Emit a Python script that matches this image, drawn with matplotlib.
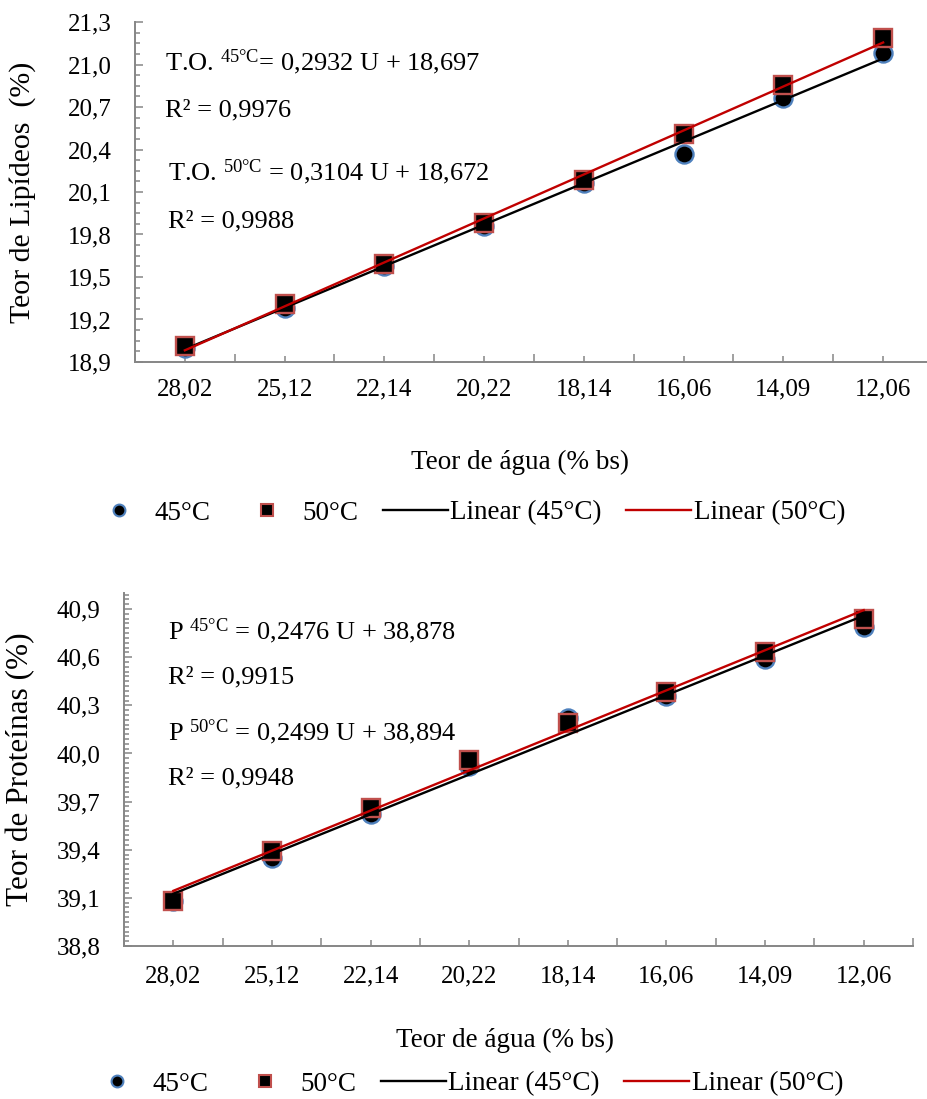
import numpy as np
import matplotlib.pyplot as plt
from matplotlib.lines import Line2D
from matplotlib.ticker import FixedLocator

plt.rcParams['font.family'] = ['Liberation Serif', 'DejaVu Serif']
plt.rcParams['mathtext.fontset'] = 'custom'
plt.rcParams['mathtext.rm'] = 'Liberation Serif'
plt.rcParams['mathtext.it'] = 'Liberation Serif:italic'

# *
# data
# *
umidade = ['28,02', '25,12', '22,14', '20,22', '18,14', '16,06', '14,09', '12,06']

lip_45 = [19.00, 19.28, 19.58, 19.86, 20.16, 20.37, 20.76, 21.08]
lip_50 = [19.01, 19.31, 19.59, 19.88, 20.185, 20.51, 20.855, 21.19]
lip_coef_45 = (0.2932, 18.697)
lip_coef_50 = (0.3104, 18.672)
lip_yticks = [18.9, 19.2, 19.5, 19.8, 20.1, 20.4, 20.7, 21.0, 21.3]
lip_ylabels = ['18,9', '19,2', '19,5', '19,8', '20,1', '20,4', '20,7', '21,0', '21,3']

prot_45 = [39.08, 39.35, 39.62, 39.92, 40.22, 40.36, 40.59, 40.79]
prot_50 = [39.08, 39.39, 39.66, 39.96, 40.19, 40.38, 40.63, 40.84]
prot_coef_45 = (0.2476, 38.878)
prot_coef_50 = (0.2499, 38.894)
prot_yticks = [38.8, 39.1, 39.4, 39.7, 40.0, 40.3, 40.6, 40.9]
prot_ylabels = ['38,8', '39,1', '39,4', '39,7', '40,0', '40,3', '40,6', '40,9']

lip_text = [r'T.O. $^{\mathrm{45°C}}$= 0,2932 U + 18,697', 'R² = 0,9976',
            r'T.O. $^{\mathrm{50°C}}$ = 0,3104 U + 18,672', 'R² = 0,9988']
prot_text = [r'P $^{\mathrm{45°C}}$ = 0,2476 U + 38,878', 'R² = 0,9915',
             r'P $^{\mathrm{50°C}}$ = 0,2499 U + 38,894', 'R² = 0,9948']

W, H = 927, 1099
BLUE = '#4F81BD'
PINK = '#C0504D'
RED = '#C00000'
GRAY = '#868686'
FS_TICK = 18
FS_EQ = 19
FS_LAB = 19.5

fig = plt.figure(figsize=(W / 100, H / 100), dpi=100)


def px(x0, y0, x1, y1):
    # pixel box -> figure fraction [left, bottom, width, height]
    return [x0 / W, 1 - y1 / H, (x1 - x0) / W, (y1 - y0) / H]


def panel(rect, y45, y50, c45, c50, ylim, yticks, ylabels, yminor, xright,
          ylabel, ylabsize, ylabx, xlabpad):
    ax = fig.add_axes(rect)
    x = np.arange(len(umidade))
    ax.plot(x, y45, 'o', ms=13, mfc='black', mec=BLUE, mew=1.7, zorder=3)
    ax.plot(x, y50, 's', ms=13, mfc='black', mec=PINK, mew=1.7, zorder=4)
    u = x + 1
    ax.plot(x, c45[0] * u + c45[1], color='black', lw=1.7, zorder=5)
    ax.plot(x, c50[0] * u + c50[1], color=RED, lw=1.7, zorder=6)

    ax.set_xlim(-0.5, xright)
    ax.set_ylim(*ylim)
    ax.set_xticks(x)
    ax.set_xticklabels(umidade)
    ax.xaxis.set_minor_locator(FixedLocator(np.arange(-0.5, 8.0, 1.0)))
    ax.set_yticks(yticks)
    ax.set_yticklabels(ylabels)
    ax.yaxis.set_minor_locator(FixedLocator(yminor))

    for s in ['top', 'right']:
        ax.spines[s].set_visible(False)
    for s in ['left', 'bottom']:
        ax.spines[s].set_color(GRAY)
        ax.spines[s].set_linewidth(1.4)
    ax.tick_params(axis='both', which='both', direction='in', color=GRAY, width=1.1,
                   labelsize=FS_TICK)
    ax.tick_params(axis='y', which='major', length=6, pad=17)
    ax.tick_params(axis='y', which='minor', length=3.5)
    ax.tick_params(axis='x', which='major', length=4, pad=xlabpad)
    ax.tick_params(axis='x', which='minor', length=6)
    ax.set_ylabel(ylabel, fontsize=ylabsize)
    ax.yaxis.set_label_coords(ylabx, 0.5)
    return ax


ax1 = panel(px(135, 22, 930, 362), lip_45, lip_50, lip_coef_45, lip_coef_50,
            (18.9, 21.3), lip_yticks, lip_ylabels, np.arange(18.9, 21.31, 0.075),
            7.47, 'Teor de Lipídeos  (%)', 21.5, -0.125, 12)
ax2 = panel(px(124, 593, 913, 946), prot_45, prot_50, prot_coef_45, prot_coef_50,
            (38.8, 41.0), prot_yticks, prot_ylabels, np.arange(38.8, 41.001, 0.03),
            7.5, 'Teor de Proteínas (%)', 22.5, -0.112, 14)

fig.text(520 / W, 1 - 462 / H, 'Teor de água (% bs)', fontsize=FS_LAB, ha='center', va='center')
fig.text(505 / W, 1 - 1040 / H, 'Teor de água (% bs)', fontsize=FS_LAB, ha='center', va='center')

for t, (xx, yy) in zip(lip_text, [(165, 62), (165, 110), (168, 172), (168, 221)]):
    fig.text(xx / W, 1 - yy / H, t, fontsize=FS_EQ, va='center')
for t, (xx, yy) in zip(prot_text, [(168, 631), (168, 677), (168, 732), (168, 778)]):
    fig.text(xx / W, 1 - yy / H, t, fontsize=FS_EQ, va='center')

handles = [
    Line2D([], [], ls='none', marker='o', ms=8.5, mfc='black', mec=BLUE, mew=1.5),
    Line2D([], [], ls='none', marker='s', ms=9, mfc='black', mec=PINK, mew=1.5),
    Line2D([], [], color='black', lw=1.7),
    Line2D([], [], color=RED, lw=1.7),
]
labels = ['45°C', '50°C', 'Linear (45°C)', 'Linear (50°C)']
for cy, cx in [(513, 466), (1084, 464)]:
    fig.legend(handles, labels, loc='center', bbox_to_anchor=(cx / W, 1 - cy / H), ncol=4,
               frameon=False, fontsize=FS_LAB, handlelength=2.4, handletextpad=0.1,
               columnspacing=0.9, borderpad=0)

fig.savefig('out.png', dpi=100)
